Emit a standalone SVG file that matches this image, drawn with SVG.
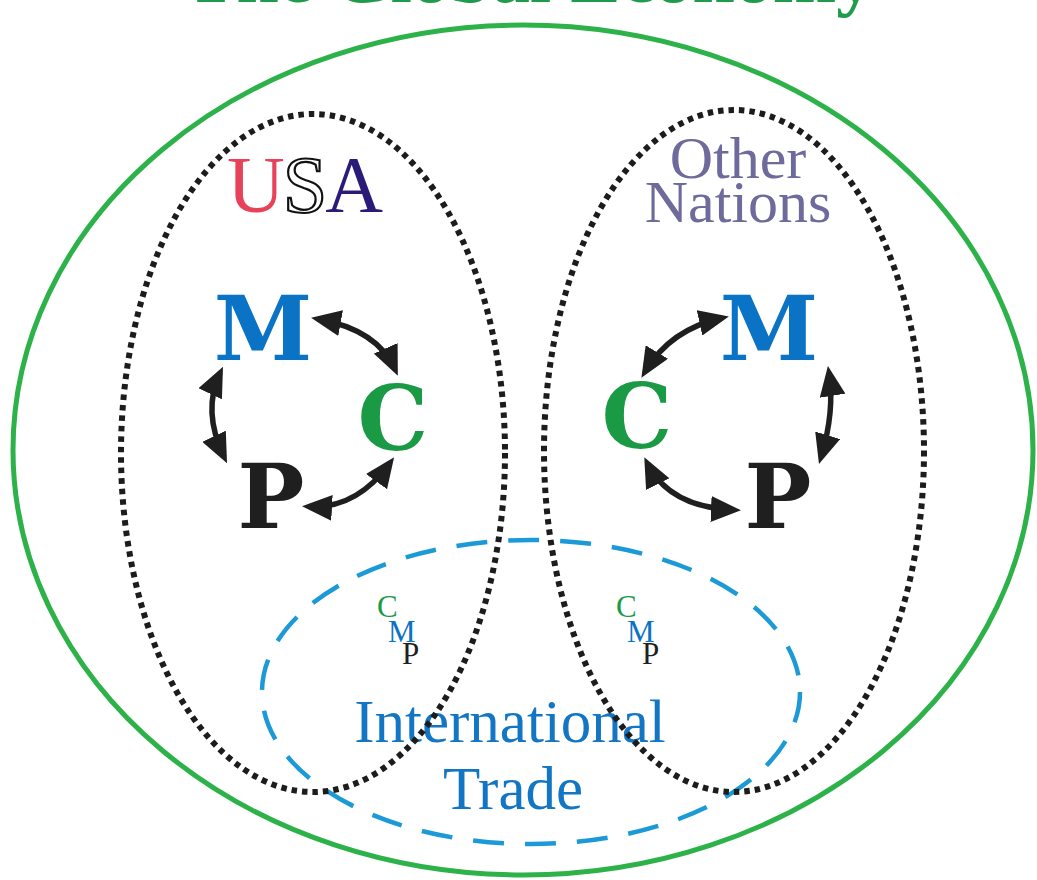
<svg xmlns="http://www.w3.org/2000/svg" width="1037" height="880" viewBox="0 0 1037 880">
<style>
.serif{font-family:"Liberation Serif","Times New Roman",serif}
.big{font-family:"DejaVu Serif","Liberation Serif",serif;font-weight:bold;font-size:89px;text-anchor:middle}
.small{font-family:"Liberation Serif","Times New Roman",serif;font-size:31px}
.dotted{fill:none;stroke:#1c1c1c;stroke-width:6;stroke-dasharray:5.5 5}
.arrow{fill:none;stroke:#1f1f1f;stroke-width:5.5;marker-start:url(#ah);marker-end:url(#ah)}
.mC{fill:#1a9a44}.mM{fill:#0b73c5}.mP{fill:#1f1f1f}
</style>
<defs>
<marker id="ah" viewBox="0 0 30 26" refX="23" refY="13" markerWidth="30" markerHeight="26" markerUnits="userSpaceOnUse" orient="auto-start-reverse">
<path d="M0,0 L30,13 L0,26 z" fill="#1f1f1f"/>
</marker>
</defs>
<rect width="1037" height="880" fill="#ffffff"/>
<text class="serif" x="530" y="2" font-size="76" font-weight="bold" fill="#1f9c4b" text-anchor="middle">The Global Economy</text>
<g id="global-economy">
<ellipse cx="523" cy="450" rx="510" ry="425" fill="none" stroke="#2db24a" stroke-width="5"/>
</g>
<g id="international-trade">
<ellipse cx="531" cy="692" rx="269" ry="152" fill="none" stroke="#1b9ad7" stroke-width="4.5" stroke-dasharray="31 21"/>
<text class="serif" font-size="61" fill="#1276c4" text-anchor="middle"><tspan x="510" y="742">International</tspan><tspan x="513" y="809">Trade</tspan></text>
</g>
<g id="usa">
<text class="serif" x="227" y="212" font-size="80" letter-spacing="-2"><tspan fill="#e8415a">U</tspan><tspan fill="#ffffff" stroke="#111111" stroke-width="2.2">S</tspan><tspan fill="#2b1b78">A</tspan></text>
<ellipse class="dotted" cx="313" cy="453" rx="192" ry="339"/>
</g>
<g id="other-nations">
<text class="serif" font-size="60" fill="#6e6a9c" text-anchor="middle"><tspan x="738" y="178">Other</tspan><tspan x="738" y="222">Nations</tspan></text>
<ellipse class="dotted" cx="734" cy="451" rx="190" ry="341"/>
</g>
<g id="usa-M"><text class="big mM" x="263" y="360">M</text></g>
<g id="usa-C"><text class="big mC" x="393" y="450">C</text></g>
<g id="usa-P"><text class="big mP" x="271" y="528">P</text></g>
<g id="other-M"><text class="big mM" x="769" y="360">M</text></g>
<g id="other-C"><text class="big mC" x="637" y="448">C</text></g>
<g id="other-P"><text class="big mP" x="778" y="528">P</text></g>
<g id="usa-trade-cmp">
<text class="small mC" x="377" y="617">C</text>
<text class="small mM" x="388" y="642">M</text>
<text class="small mP" x="402" y="664">P</text>
</g>
<g id="other-trade-cmp">
<text class="small mC" x="616" y="617">C</text>
<text class="small mM" x="627" y="642">M</text>
<text class="small mP" x="642" y="664">P</text>
</g>
<g id="connectors">
<path class="arrow" d="M318,319 Q377.5,329.8 395,369.4"/>
<path class="arrow" d="M220,373 Q202,411 224,457"/>
<path class="arrow" d="M390,463 Q356.5,509.2 309,506.6"/>
<path class="arrow" d="M722,318 Q670.5,329.1 645,371.7"/>
<path class="arrow" d="M829,373 Q835,411 821,457.3"/>
<path class="arrow" d="M647.4,463.5 Q669.3,507.2 734,510"/>
</g>
</svg>
